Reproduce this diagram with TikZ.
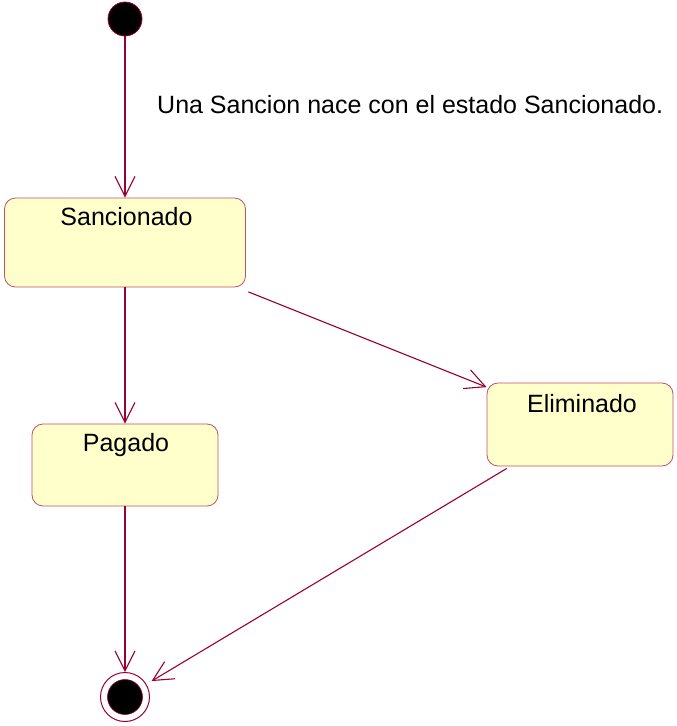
\documentclass[tikz,border=0pt]{standalone}
\usepackage{fontspec}
\setmainfont{Liberation Sans}
\usetikzlibrary{arrows.meta}
\definecolor{lineC}{HTML}{990033}
\definecolor{boxFill}{HTML}{FFFFCC}
\definecolor{boxDraw}{HTML}{C0506A}
\tikzset{
  statebox/.style={draw=boxDraw, fill=boxFill, rounded corners=11pt, line width=0.8pt, inner sep=0pt},
  statelabel/.style={anchor=base, inner sep=0pt, font=\fontsize{25pt}{30pt}\selectfont},
  trans/.style={draw=lineC, line width=1.1pt, -{Straight Barb[length=20pt,width=20pt,line width=1.1pt]}},
}
\begin{document}
\begin{tikzpicture}[x=1pt,y=-1pt]
\useasboundingbox (0,0) rectangle (677,726);
% start
\node[circle, fill=black, draw=lineC, line width=0.8pt, minimum size=34pt, inner sep=0pt] (start) at (125,19) {};
% end
\node[circle, draw=lineC, line width=1pt, minimum size=49pt, inner sep=0pt] (end) at (125,697) {};
\node[circle, fill=black, draw=lineC, line width=0.6pt, minimum size=35pt, inner sep=0pt] (endin) at (125,697) {};
% states
\node[statebox, minimum width=241pt, minimum height=89pt] (sanc) at (125,242.5) {};
\node[statelabel] (sancl) at (126.5,225) {Sancionado};
\node[statebox, minimum width=186pt, minimum height=82pt] (pag) at (125,465) {};
\node[statelabel] (pagl) at (126,451) {Pagado};
\node[statebox, minimum width=186pt, minimum height=83pt] (elim) at (580,424.5) {};
\node[statelabel] (eliml) at (582,412) {Eliminado};
% note
\node[anchor=base west, inner sep=0pt, font=\fontsize{25pt}{30pt}\selectfont] (note) at (157,113) {Una Sancion nace con el estado Sancionado.};
% transitions
\draw[trans] (start) -- (sanc.north);
\draw[trans] (sanc.south) -- (pag.north);
\draw[trans, shorten <=12pt] (sanc) -- (elim);
\draw[trans] (pag.south) -- (end.north);
\draw[trans, shorten <=4pt, shorten >=6pt] (elim) -- (end);
\end{tikzpicture}
\end{document}
